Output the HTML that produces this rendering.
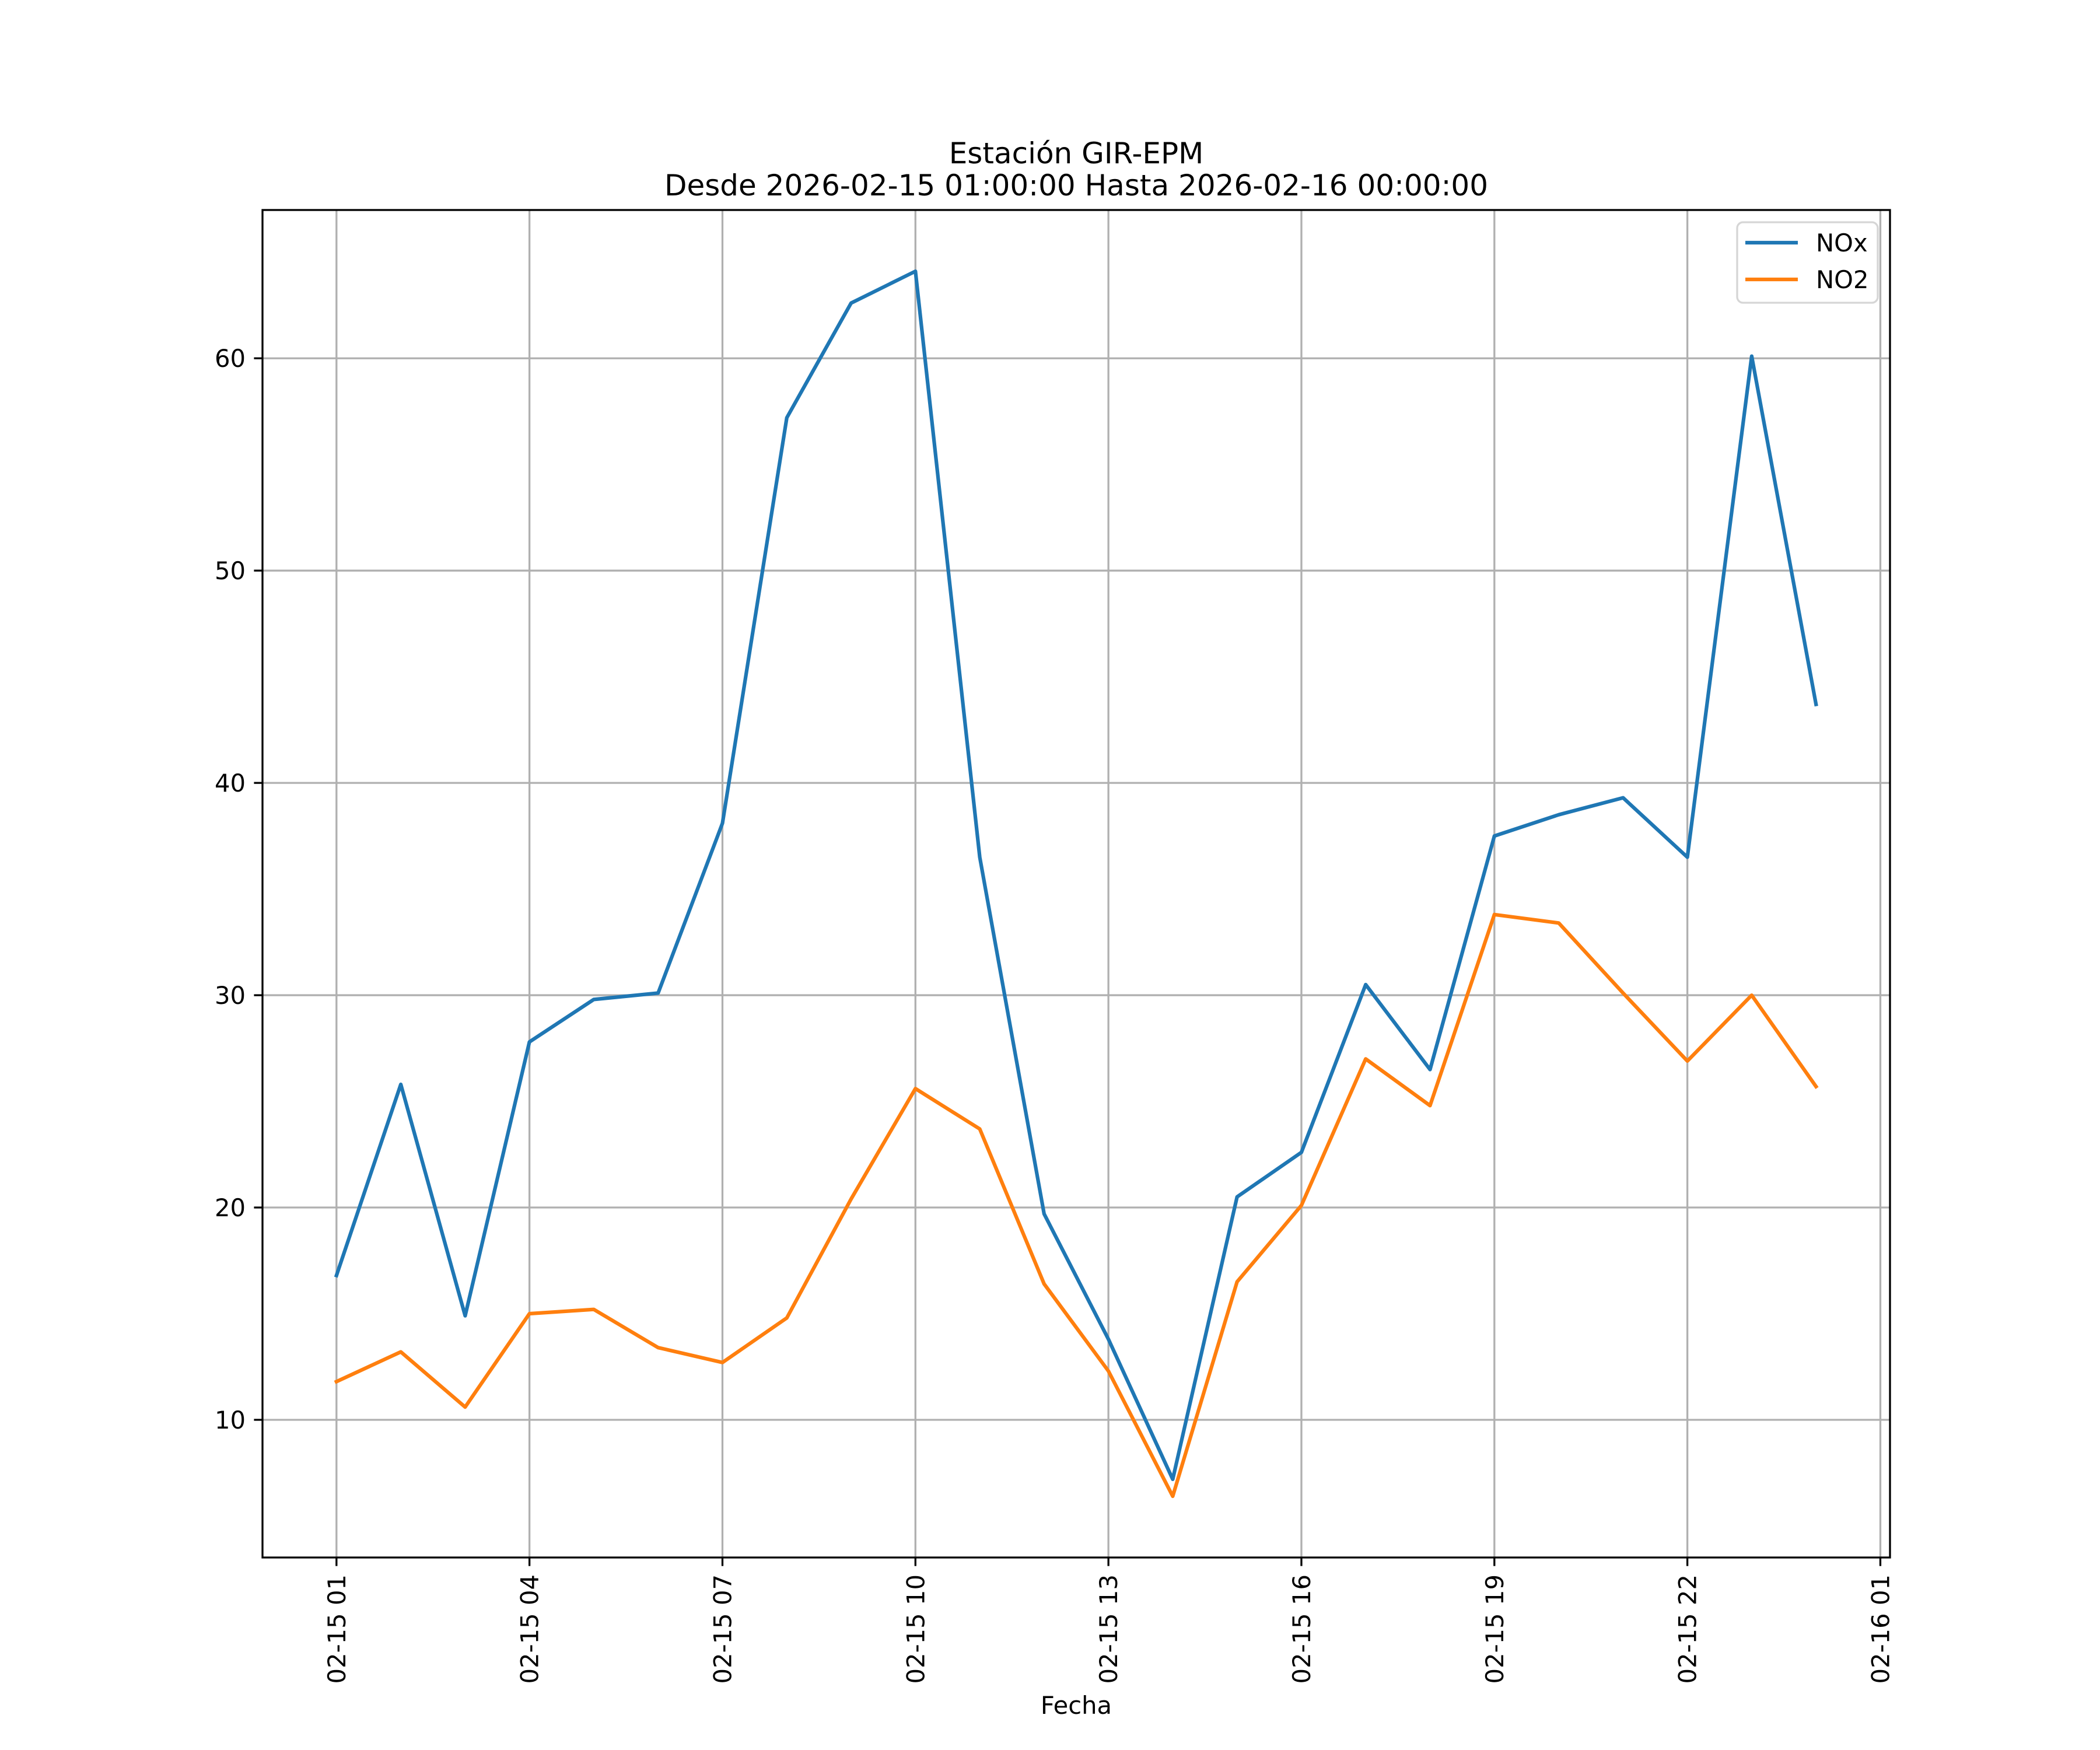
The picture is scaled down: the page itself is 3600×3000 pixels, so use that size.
<!DOCTYPE html>
<html><head><meta charset="utf-8"><style>
html,body{margin:0;padding:0;background:#fff}
svg{display:block;font-family:"DejaVu Sans","Liberation Sans",sans-serif}
</style></head><body>
<svg id="chart" width="3600" height="3000" viewBox="0 0 3600 3000" xmlns="http://www.w3.org/2000/svg">
<rect width="3600" height="3000" fill="#fff"/>
<text x="1845" y="280" font-size="50" text-anchor="middle">Estación GIR-EPM</text>
<text x="1845" y="335" font-size="50" text-anchor="middle">Desde 2026-02-15 01:00:00 Hasta 2026-02-16 00:00:00</text>
<g id="grid"></g>
<g id="series"></g>
<rect x="450" y="360" width="2790" height="2310" fill="none" stroke="#000" stroke-width="3.3"/>
<g id="ticks"></g>
<text x="1845" y="2938" font-size="41.7" text-anchor="middle">Fecha</text>
<g>
<rect x="2978" y="381" width="241" height="138" rx="10" fill="#fff" fill-opacity="0.8" stroke="#d6d6d6" stroke-width="3.3"/>
<line x1="2992" y1="416" x2="3082" y2="416" stroke="#1f77b4" stroke-width="6.25"/>
<text x="3113" y="431" font-size="41.7">NOx</text>
<line x1="2992" y1="479" x2="3082" y2="479" stroke="#ff7f0e" stroke-width="6.25"/>
<text x="3113" y="494" font-size="41.7">NO2</text>
</g>
</svg>
<script>
const hours = [1,2,3,4,5,6,7,8,9,10,11,12,13,14,15,16,17,18,19,20,21,22,23,24];
const noxValues = [16.8,25.8,14.9,27.8,29.8,30.1,38.1,57.2,62.6,64.1,36.5,19.7,13.8,7.2,20.5,22.6,30.5,26.5,37.5,38.5,39.3,36.5,60.1,43.7];
const no2Values = [11.8,13.2,10.6,15.0,15.2,13.4,12.7,14.8,20.4,25.6,23.7,16.4,12.3,6.4,16.5,20.1,27.0,24.8,33.8,33.4,30.1,26.9,30.0,25.7];
const xTickHours = [1,4,7,10,13,16,19,22,25];
const xTickLabels = ["02-15 01","02-15 04","02-15 07","02-15 10","02-15 13","02-15 16","02-15 19","02-15 22","02-16 01"];
const yTicks = [10,20,30,40,50,60];

const NS="http://www.w3.org/2000/svg";
const L=450,R=3240,T=360,B=2670;
const hMin=Math.min(...hours),hMax=Math.max(...hours),hp=(hMax-hMin)*0.05;
const all=noxValues.concat(no2Values);
const vMin=Math.min(...all),vMax=Math.max(...all),vp=(vMax-vMin)*0.05;
const x0=hMin-hp,x1=hMax+hp,y0=vMin-vp,y1=vMax+vp;
const xs=h=>L+(h-x0)/(x1-x0)*(R-L);
const ys=v=>B-(v-y0)/(y1-y0)*(B-T);
function mk(tag,attrs,parent,text){const e=document.createElementNS(NS,tag);for(const k in attrs)e.setAttribute(k,attrs[k]);if(text!==undefined)e.textContent=text;parent.appendChild(e);return e;}
const grid=document.getElementById('grid'),ticks=document.getElementById('ticks'),series=document.getElementById('series');
xTickHours.forEach((h,i)=>{
  const x=xs(h);
  const g=mk('line',{x1:x,y1:T,x2:x,y2:B,stroke:'#b0b0b0','stroke-width':3.3},grid);
  
  
  const t=mk('line',{x1:x,y1:B,x2:x,y2:B+14.6,stroke:'#000','stroke-width':3.3},ticks);
  
  
  const lb=mk('text',{x:0,y:0,'font-size':41.7,'text-anchor':'end',transform:`translate(${x+15},${B+29}) rotate(-90)`},ticks,xTickLabels[i]);
  
  
});
yTicks.forEach(v=>{
  const y=ys(v);
  const g=mk('line',{x1:L,y1:y,x2:R,y2:y,stroke:'#b0b0b0','stroke-width':3.3},grid);
  
  
  const t=mk('line',{x1:L-14.6,y1:y,x2:L,y2:y,stroke:'#000','stroke-width':3.3},ticks);
  
  
  const lb=mk('text',{x:L-29,y:y+15,'font-size':41.7,'text-anchor':'end'},ticks,String(v));
  
  
});
function line(vals,color,name){
  const pts=vals.map((v,i)=>xs(hours[i]).toFixed(1)+','+ys(v).toFixed(1)).join(' ');
  const p=mk('polyline',{points:pts,fill:'none',stroke:color,'stroke-width':6.25,'stroke-linejoin':'round','stroke-linecap':'square'},series);
  
  
}
line(noxValues,'#1f77b4','nox-line');
line(no2Values,'#ff7f0e','no2-line');
</script>
</body></html>
